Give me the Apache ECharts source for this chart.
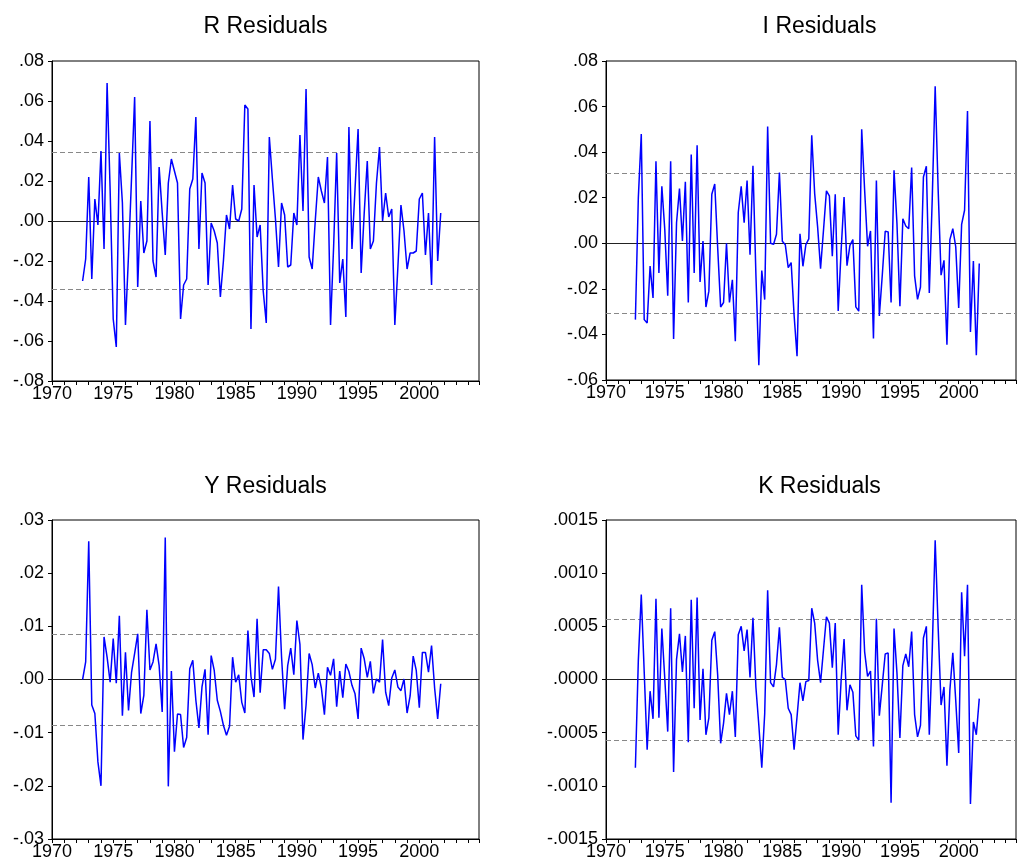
<!DOCTYPE html>
<html>
<head>
<meta charset="utf-8">
<script src="https://cdn.jsdelivr.net/npm/echarts@6/dist/echarts.min.js"></script>
<style>
html, body { margin: 0; padding: 0; background: #fff; }
#chart { width: 1019px; height: 866px; }
</style>
</head>
<body>
<div id="chart"></div>
<script>
// quarterly residuals, first observation 1972Q3
const START_YEAR = 1972.5

const rResid = [
  -0.030, -0.019, 0.022, -0.029, 0.011, -0.002, 0.035, -0.014, 0.069, 0.015,
  -0.049, -0.063, 0.034, 0.009, -0.052, -0.017, 0.022, 0.062, -0.033, 0.010,
  -0.016, -0.010, 0.050, -0.020, -0.028, 0.027, 0.004, -0.017, 0.019, 0.031,
  0.025, 0.019, -0.049, -0.032, -0.029, 0.016, 0.021, 0.052, -0.014, 0.024,
  0.019, -0.032, -0.001, -0.005, -0.011, -0.038, -0.020, 0.003, -0.004, 0.018,
  0.001, 0.000, 0.006, 0.058, 0.056, -0.054, 0.018, -0.008, -0.002, -0.035,
  -0.051, 0.042, 0.021, 0.001, -0.023, 0.009, 0.003, -0.023, -0.022, 0.004,
  -0.002, 0.043, 0.005, 0.066, -0.018, -0.024, 0.000, 0.022, 0.015, 0.009,
  0.032, -0.052, -0.013, 0.034, -0.031, -0.019, -0.048, 0.047, -0.014, 0.016,
  0.046, -0.026, 0.004, 0.030, -0.014, -0.010, 0.019, 0.037, 0.000, 0.014,
  0.002, 0.006, -0.052, -0.023, 0.008, -0.005, -0.024, -0.016, -0.016, -0.015,
  0.011, 0.014, -0.017, 0.004, -0.032, 0.042, -0.020, 0.004
]

const iResid = [
  -0.0335, 0.020, 0.048, -0.0335, -0.035, -0.010, -0.024, 0.036, -0.013, 0.025,
  0.006, -0.023, 0.036, -0.042, 0.009, 0.024, 0.001, 0.027, -0.026, 0.039,
  -0.013, 0.043, -0.017, 0.001, -0.028, -0.021, 0.0215, 0.026, -0.002, -0.028,
  -0.026, 0.000, -0.026, -0.016, -0.043, 0.0135, 0.025, 0.009, 0.0275, -0.005,
  0.034, -0.0136, -0.0535, -0.012, -0.0247, 0.0513, 0.000, -0.0005, 0.004, 0.031,
  0.0009, -0.0006, -0.0107, -0.0085, -0.0316, -0.0496, 0.0042, -0.0101, -0.0006, 0.0019,
  0.0474, 0.0218, 0.0072, -0.0111, 0.0057, 0.0230, 0.0208, -0.0057, 0.0215, -0.0297,
  -0.0031, 0.0203, -0.0098, -0.0009, 0.0016, -0.0279, -0.0298, 0.0500, 0.0233, -0.0013,
  0.0054, -0.0418, 0.0276, -0.0319, -0.0140, 0.0053, 0.0050, -0.0260, 0.0320, 0.0086,
  -0.0276, 0.0108, 0.0076, 0.0064, 0.0332, -0.0143, -0.0246, -0.0192, 0.0291, 0.0338,
  -0.0218, 0.0193, 0.0689, 0.0240, -0.0140, -0.0075, -0.0445, 0.0016, 0.0064, -0.0016,
  -0.0284, 0.0083, 0.0145, 0.0581, -0.0389, -0.0078, -0.0491, -0.0089
]

const yResid = [
  0.0000, 0.0033, 0.0260, -0.0048, -0.0064, -0.0155, -0.0200, 0.0080, 0.0042, -0.0005,
  0.0077, -0.0007, 0.0120, -0.0068, 0.0051, -0.0058, 0.0014, 0.0049, 0.0086, -0.0064,
  -0.0030, 0.0131, 0.0018, 0.0033, 0.0067, 0.0026, -0.0061, 0.0267, -0.0201, 0.0016,
  -0.0136, -0.0065, -0.0066, -0.0128, -0.0109, 0.0020, 0.0036, -0.0039, -0.0091, -0.0014,
  0.0019, -0.0104, 0.0045, 0.0017, -0.0039, -0.0060, -0.0086, -0.0105, -0.0088, 0.0042,
  -0.0005, 0.0009, -0.0043, -0.0063, 0.0092, 0.0006, -0.0033, 0.0114, -0.0025, 0.0056,
  0.0056, 0.0049, 0.0019, 0.0038, 0.0175, 0.0042, -0.0056, 0.0026, 0.0059, 0.0009,
  0.0111, 0.0066, -0.0113, -0.0048, 0.0049, 0.0028, -0.0016, 0.0012, -0.0016, -0.0066,
  0.0023, 0.0008, 0.0039, -0.0051, 0.0016, -0.0034, 0.0029, 0.0015, -0.0011, -0.0027,
  -0.0074, 0.0059, 0.0039, 0.0004, 0.0034, -0.0026, 0.0001, -0.0005, 0.0075, -0.0024,
  -0.0049, 0.0003, 0.0018, -0.0014, -0.0021, 0.0001, -0.0063, -0.0031, 0.0044, 0.0017,
  -0.0053, 0.0051, 0.0051, 0.0014, 0.0064, -0.0016, -0.0074, -0.0008
]

const kResid = [
  -0.00083, 0.00018, 0.00080, 0.00007, -0.00066, -0.00011, -0.00037, 0.00076, -0.00036, 0.00048,
  0.00001, -0.00049, 0.00067, -0.00087, 0.00019, 0.00043, 0.00007, 0.00041, -0.00059, 0.00075,
  -0.00027, 0.00077, -0.00038, 0.00010, -0.00052, -0.00036, 0.00037, 0.00045, 0.00004, -0.00060,
  -0.00041, -0.00013, -0.00033, -0.00011, -0.00054, 0.00042, 0.00050, 0.00027, 0.00047, 0.00002,
  0.00058, -0.00007, -0.00043, -0.00083, -0.00032, 0.00084, -0.00003, -0.00007, 0.00014, 0.00049,
  0.00002, 0.00000, -0.00027, -0.00033, -0.00066, -0.00035, -0.00003, -0.00020, -0.00002, -0.00001,
  0.00067, 0.00053, 0.00018, -0.00003, 0.00028, 0.00059, 0.00053, 0.00011, 0.00053, -0.00052,
  -0.00001, 0.00038, -0.00029, -0.00005, -0.00012, -0.00053, -0.00057, 0.00089, 0.00026, 0.00003,
  0.00008, -0.00063, 0.00057, -0.00034, -0.00005, 0.00024, 0.00025, -0.00116, 0.00048, 0.00006,
  -0.00055, 0.00013, 0.00024, 0.00012, 0.00045, -0.00033, -0.00054, -0.00043, 0.00039, 0.00050,
  -0.00052, 0.00027, 0.00131, 0.00050, -0.00024, -0.00007, -0.00081, -0.00010, 0.00025, -0.00020,
  -0.00069, 0.00082, 0.00022, 0.00089, -0.00117, -0.00040, -0.00052, -0.00018
]

// +/- one standard error bands
const rBand = 0.0342
const iBand = 0.0307
const yBand = 0.0086
const kBand = 0.00057

const FONT = 'Liberation Sans, Arial, sans-serif'
const PLOT_W = 427

const panels = [
  { title: 'R Residuals', data: rResid, band: rBand, min: -0.08, max: 0.08, step: 0.02, digits: 2, left: 52, top: 61, height: 320, titleY: 27 },
  { title: 'I Residuals', data: iResid, band: iBand, min: -0.06, max: 0.08, step: 0.02, digits: 2, left: 606, top: 61, height: 319, titleY: 27 },
  { title: 'Y Residuals', data: yResid, band: yBand, min: -0.03, max: 0.03, step: 0.01, digits: 2, left: 52, top: 520, height: 319, titleY: 486.5 },
  { title: 'K Residuals', data: kResid, band: kBand, min: -0.0015, max: 0.0015, step: 0.0005, digits: 4, left: 606, top: 520, height: 319, titleY: 486.5 }
]

const fmtTick = (v, digits) => {
  const s = Math.abs(v).toFixed(digits).replace(/^0/, '')
  return (v < -1e-12 ? '-' : '') + s
}

const toPoints = (values) => values.map((v, i) => [START_YEAR + i / 4, v])

const option = {
  animation: false,
  backgroundColor: '#fff',
  title: panels.map(p => ({
    text: p.title,
    left: p.left + PLOT_W / 2,
    top: p.titleY,
    textAlign: 'center',
    textVerticalAlign: 'middle',
    padding: 0,
    textStyle: { fontSize: 23, fontWeight: 'normal', color: '#000', fontFamily: FONT }
  })),
  grid: panels.map(p => ({
    left: p.left,
    top: p.top,
    width: PLOT_W,
    height: p.height,
    show: true,
    borderColor: '#000',
    borderWidth: 1
  })),
  xAxis: panels.map((p, i) => ({
    gridIndex: i,
    type: 'value',
    min: 1970,
    max: 2004.875,
    interval: 1,
    axisLine: { onZero: false, lineStyle: { color: '#000', width: 1 } },
    axisTick: { show: true, inside: false, length: 4, lineStyle: { color: '#000' } },
    axisLabel: {
      formatter: v => (v % 5 === 0 && v <= 2000) ? String(v) : '',
      fontSize: 18,
      color: '#000',
      fontFamily: FONT,
      margin: 4
    },
    splitLine: { show: false }
  })),
  yAxis: panels.map((p, i) => ({
    gridIndex: i,
    type: 'value',
    min: p.min,
    max: p.max,
    interval: p.step,
    axisLine: { show: true, onZero: false, lineStyle: { color: '#000', width: 1 } },
    axisTick: { show: true, inside: false, length: 4, lineStyle: { color: '#000' } },
    axisLabel: {
      formatter: v => fmtTick(v, p.digits),
      fontSize: 18,
      color: '#000',
      fontFamily: FONT,
      margin: 8
    },
    splitLine: { show: false }
  })),
  series: panels.map((p, i) => ({
    type: 'line',
    xAxisIndex: i,
    yAxisIndex: i,
    data: toPoints(p.data),
    symbol: 'none',
    showSymbol: false,
    lineStyle: { color: '#0000ff', width: 1.5 },
    z: 3,
    markLine: {
      silent: true,
      symbol: 'none',
      precision: 8,
      z: 1,
      label: { show: false },
      animation: false,
      data: [
        { yAxis: 0, lineStyle: { color: '#222', width: 1, type: 'solid' } },
        { yAxis: p.band, lineStyle: { color: '#888', width: 1, type: [5, 3] } },
        { yAxis: -p.band, lineStyle: { color: '#888', width: 1, type: [5, 3] } }
      ]
    }
  }))
}

const chart = echarts.init(document.getElementById('chart'), null, { renderer: 'canvas' })
chart.setOption(option)
</script>
</body>
</html>
